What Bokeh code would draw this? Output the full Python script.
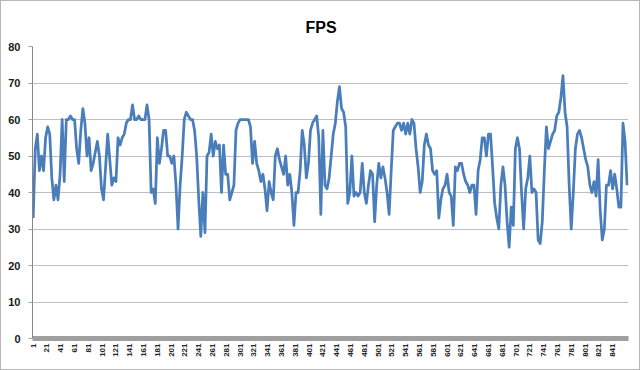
import math
from bokeh.plotting import figure
from bokeh.models import Range1d, FixedTicker, ColumnDataSource
from bokeh.embed import file_html
from bokeh.resources import INLINE

# ---- data (one sample every 3 frames) ----
frame_start = 1
frame_step = 3
fps_values = [
    # frames 1..136
    33, 52, 56, 46, 50, 46, 55, 58, 56, 44, 38, 42, 38, 45, 60, 43, 60, 60, 61, 60,
    60, 52, 48, 57, 63, 59, 50, 55, 46, 48, 51, 54, 50, 41, 38, 47, 56, 49, 42, 44,
    43, 55, 53, 55, 56, 59,
    # frames 139..277
    60, 60, 64, 60, 60, 61, 60, 60, 60, 64, 60, 40, 41, 37, 55, 48, 52, 57, 57, 50,
    50, 48, 50, 42, 30, 42, 50, 60, 62, 61, 60, 60, 57, 50, 38, 28, 40, 29, 50, 51,
    56, 50, 54, 52, 53, 40, 53,
    # frames 280..418
    45, 45, 38, 40, 42, 57, 59, 60, 60, 60, 60, 60, 58, 48, 54, 48, 46, 43, 45, 41,
    35, 43, 40, 38, 50, 52, 49, 47, 45, 50, 42, 45, 40, 31, 40, 40, 46, 57, 53, 44,
    48, 57, 59, 60, 61, 55, 34,
    # frames 421..559
    57, 42, 41, 44, 50, 56, 59, 65, 69, 63, 62, 58, 37, 40, 50, 39, 40, 39, 40, 48,
    40, 37, 42, 46, 45, 32, 42, 48, 44, 47, 44, 40, 34, 46, 57, 58, 59, 59, 57, 59,
    56, 59, 56, 60, 59, 52, 47,
    # frames 562..700
    40, 43, 53, 56, 53, 52, 46, 45, 46, 33, 38, 41, 42, 45, 40, 39, 31, 47, 46, 48,
    48, 45, 43, 42, 40, 42, 42, 34, 46, 49, 55, 55, 50, 56, 56, 47, 37, 33, 30, 42,
    47, 42, 32, 25, 36, 31, 52,
    # frames 703..862
    55, 52, 40, 30, 41, 44, 50, 40, 41, 40, 27, 26, 32, 46, 58, 52, 54, 56, 57, 61,
    62, 66, 72, 62, 58, 42, 30, 40, 52, 56, 57, 55, 52, 49, 47, 42, 40, 43, 39, 49,
    35, 27, 30, 42, 42, 46, 41, 45, 41, 36, 36, 59, 54, 42,
]
frames = [frame_start + frame_step * i for i in range(len(fps_values))]

x_tick_values = list(range(1, 842, 20))
y_tick_values = list(range(0, 81, 10))
title_text = "FPS"

source = ColumnDataSource(data=dict(frame=frames, fps=fps_values))

p = figure(
    width=640, height=370,
    output_backend="svg", toolbar_location=None,
    x_range=Range1d(0, 864), y_range=Range1d(0, 80),
    min_border_left=32, min_border_right=12,
    min_border_top=46, min_border_bottom=32,
    background_fill_color="white", border_fill_color=None,
    styles={"outline": "1px solid #b8b8b8", "outline-offset": "-1px",
            "background-color": "white"},
)
p.outline_line_color = None

p.title.text = title_text
p.title.align = "left"
p.title.offset = 273
p.title.standoff = 22
p.title.text_font = "Liberation Sans"
p.title.text_font_size = "16px"
p.title.text_font_style = "bold"
p.title.text_color = "#000000"

p.xgrid.visible = False
p.ygrid.grid_line_color = "#bfbfbf"
p.ygrid.grid_line_width = 1

xa = p.xaxis[0]
xa.ticker = FixedTicker(ticks=x_tick_values)
xa.major_label_orientation = math.pi / 2
xa.major_tick_in = 0
xa.major_tick_out = 0
xa.minor_tick_in = 0
xa.minor_tick_out = 0
xa.axis_line_width = 5
xa.axis_line_color = "#a0a0a0"
xa.major_label_standoff = 5
xa.major_label_text_font = "Liberation Sans"
xa.major_label_text_font_size = "8px"
xa.major_label_text_font_style = "bold"
xa.major_label_text_color = "#262626"

ya = p.yaxis[0]
ya.ticker = FixedTicker(ticks=y_tick_values)
ya.major_tick_in = 0
ya.major_tick_out = 4
ya.major_tick_line_color = "#a0a0a0"
ya.minor_tick_in = 0
ya.minor_tick_out = 0
ya.axis_line_color = "#868686"
ya.major_label_standoff = 8
ya.major_label_text_font = "Liberation Sans"
ya.major_label_text_font_size = "11px"
ya.major_label_text_font_style = "bold"
ya.major_label_text_color = "#1a1a1a"

p.line("frame", "fps", source=source, line_width=2.75, line_color="#4A7EBB",
       line_join="round")

open("out.html", "w").write(file_html(p, INLINE))
